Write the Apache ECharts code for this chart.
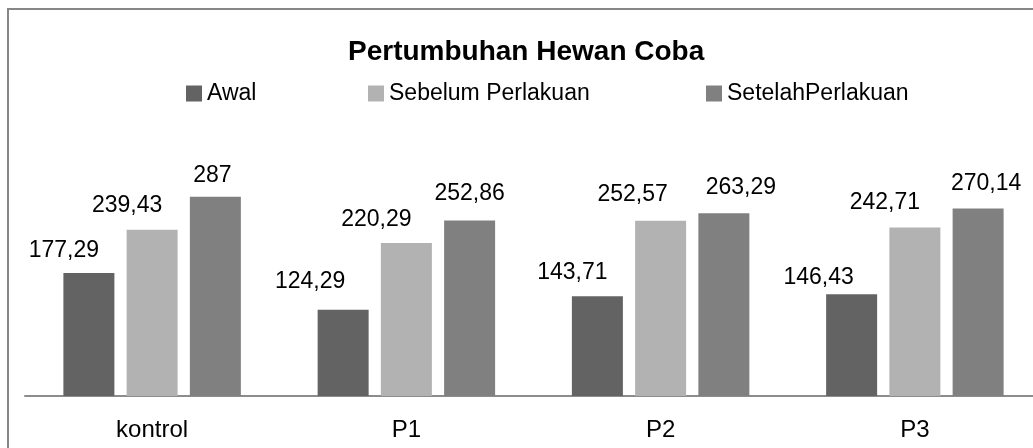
<!DOCTYPE html>
<html>
<head>
<meta charset="utf-8">
<script src="https://cdn.jsdelivr.net/npm/echarts@6/dist/echarts.min.js"></script>
<style>
html,body{margin:0;padding:0;background:#fff;overflow:hidden;}
#chart{width:1052px;height:448px;}
</style>
</head>
<body>
<div id="chart"></div>
<script>
const titleText = 'Pertumbuhan Hewan Coba';
const categories = ['kontrol', 'P1', 'P2', 'P3'];
const seriesNames = ['Awal', 'Sebelum Perlakuan', 'SetelahPerlakuan'];
const awal = [177.29, 124.29, 143.71, 146.43];
const sebelum = [239.43, 220.29, 252.57, 242.71];
const setelah = [287, 252.86, 263.29, 270.14];

// layout only: manual label displacements as in the reference (px)
const labelShiftX = [[-25, -33, -25, -33], [-25, -30, -28, -30], [-3, 0, 17, 8]];
const labelShiftY = [[2, -4, 1, 8], [0, 1, -1, 0], [3, -2, -1, 0]];

const colors = ['#636363', '#b2b2b2', '#808080'];
const FONT = 'Liberation Sans';
const fmt = v => String(v).replace('.', ',');

function makeSeries(idx, values) {
  return {
    name: seriesNames[idx],
    type: 'bar',
    barWidth: 51,
    barGap: '24%',
    itemStyle: { color: colors[idx] },
    data: values.map((v, i) => ({
      value: v,
      label: { offset: [labelShiftX[idx][i], labelShiftY[idx][i]] }
    })),
    label: {
      show: true,
      position: 'top',
      distance: 13,
      fontFamily: FONT,
      fontSize: 23,
      color: '#000',
      formatter: p => fmt(p.value)
    }
  };
}

const chart = echarts.init(document.getElementById('chart'));
const legendBase = {
  top: 82,
  padding: 0,
  icon: 'rect',
  itemWidth: 16,
  itemHeight: 16,
  itemGap: 0,
  textStyle: { fontFamily: FONT, fontSize: 23, color: '#000', padding: [0, 0, 0, 0] }
};
chart.setOption({
  animation: false,
  backgroundColor: '#fff',
  title: {
    text: titleText,
    left: 343,
    top: 33,
    textStyle: { fontFamily: FONT, fontSize: 28, fontWeight: 'bold', color: '#000' }
  },
  legend: [
    Object.assign({}, legendBase, { left: 186, data: [seriesNames[0]] }),
    Object.assign({}, legendBase, { left: 368, data: [seriesNames[1]] }),
    Object.assign({}, legendBase, { left: 706, data: [seriesNames[2]] })
  ],
  graphic: [{
    type: 'rect',
    shape: { x: 8, y: 9, width: 1200, height: 700 },
    style: { fill: 'none', stroke: '#878787', lineWidth: 2 },
    silent: true,
    z: 100
  }],
  grid: { left: 25, right: 10, top: 153, bottom: 52, containLabel: false },
  xAxis: {
    type: 'category',
    data: categories,
    axisLine: { lineStyle: { color: '#8c8c8c', width: 2 } },
    axisTick: { show: false },
    axisLabel: { fontFamily: FONT, fontSize: 24, color: '#000', margin: 22 }
  },
  yAxis: {
    type: 'value',
    min: 0,
    max: 350,
    show: false,
    splitLine: { show: false }
  },
  series: [makeSeries(0, awal), makeSeries(1, sebelum), makeSeries(2, setelah)]
});
</script>
</body>
</html>
